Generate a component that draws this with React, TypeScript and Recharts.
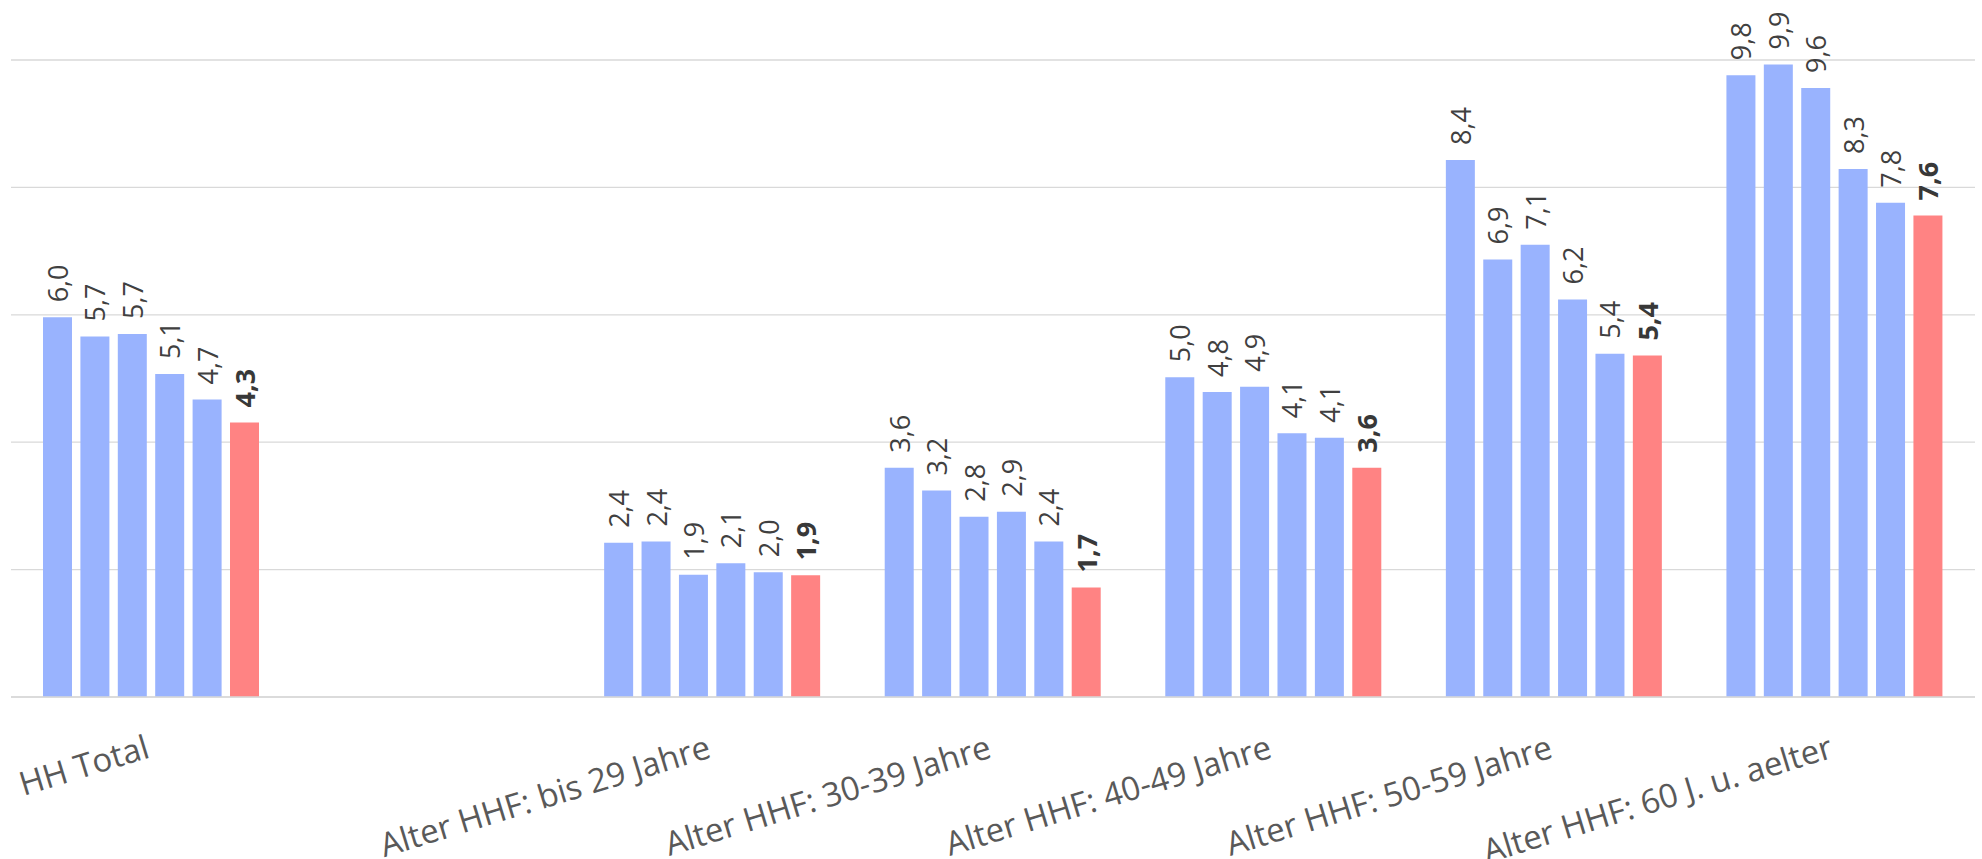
import React from 'react';
import { BarChart, Bar, XAxis, YAxis, CartesianGrid, LabelList } from 'recharts';

const categories = [
  'HH Total',
  '',
  'Alter HHF: bis 29 Jahre',
  'Alter HHF: 30-39 Jahre',
  'Alter HHF: 40-49 Jahre',
  'Alter HHF: 50-59 Jahre',
  'Alter HHF: 60 J. u. aelter',
];
const series1 = [5.96, null, 2.42, 3.6, 5.02, 8.43, 9.76];
const series2 = [5.66, null, 2.44, 3.24, 4.79, 6.87, 9.93];
const series3 = [5.7, null, 1.92, 2.83, 4.87, 7.1, 9.56];
const series4 = [5.07, null, 2.1, 2.91, 4.14, 6.24, 8.29];
const series5 = [4.67, null, 1.96, 2.44, 4.07, 5.39, 7.76];
const series6 = [4.31, null, 1.91, 1.72, 3.6, 5.36, 7.56];
const seriesKeys = ['s1', 's2', 's3', 's4', 's5', 's6'];
const yTicks = [0, 2, 4, 6, 8, 10];

const BLUE = '#99B3FE';
const RED = '#FF8383';
const FONT = '"Open Sans", "Noto Sans", sans-serif';

const data = categories.map((name, i) => ({
  name,
  s1: series1[i],
  s2: series2[i],
  s3: series3[i],
  s4: series4[i],
  s5: series5[i],
  s6: series6[i],
}));

const makeLabel = (bold: boolean) => (props: any) => {
  const { x, y, width, value } = props;
  if (value === null || value === undefined) return null;
  const cx = Number(x) + Number(width) / 2;
  const ty = Number(y) - 15;
  return (
    <text
      x={cx}
      y={ty}
      transform={`rotate(-90, ${cx}, ${ty})`}
      textAnchor="start"
      dominantBaseline="central"
      fontFamily={FONT}
      fontSize={27}
      fontWeight={bold ? 700 : 400}
      fill={bold ? '#383838' : '#404040'}
    >
      {Number(value).toFixed(1).replace('.', ',')}
    </text>
  );
};

const XTick = (props: any) => {
  const { x, y, payload } = props;
  const ty = Number(y) + 60;
  return (
    <text
      x={x}
      y={ty}
      transform={`rotate(-17, ${x}, ${ty})`}
      textAnchor="end"
      fontFamily={FONT}
      fontSize={33}
      fill="#595959"
    >
      {payload.value}
    </text>
  );
};

export default function App() {
  return (
    <div style={{ position: 'absolute', left: 0, top: 0, background: '#fff' }}>
      <BarChart
        width={1982}
        height={859}
        data={data}
        margin={{ top: 60, right: 7, left: 11, bottom: 12 }}
        barSize={29}
        barGap={8.4}
      >
        <CartesianGrid vertical={false} stroke="#D9D9D9" strokeWidth={1.3} />
        <YAxis hide domain={[0, 10]} ticks={yTicks} />
        <XAxis
          dataKey="name"
          height={150}
          interval={0}
          tickLine={false}
          tickSize={0}
          tickMargin={0}
          axisLine={{ stroke: '#D9D9D9', strokeWidth: 1.3 }}
          tick={<XTick />}
        />
        {seriesKeys.map((k, i) => (
          <Bar
            key={k}
            dataKey={k}
            fill={i === 5 ? RED : BLUE}
            isAnimationActive={false}
          >
            <LabelList dataKey={k} content={makeLabel(i === 5)} />
          </Bar>
        ))}
      </BarChart>
    </div>
  );
}
